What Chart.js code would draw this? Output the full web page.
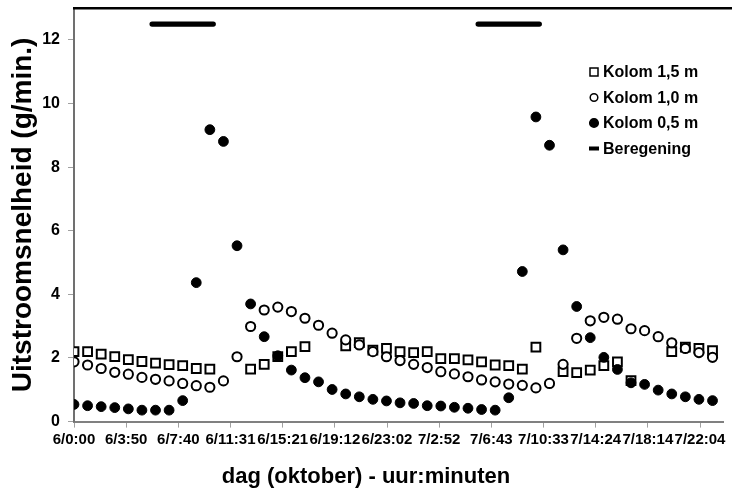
<!DOCTYPE html>
<html>
<head>
<meta charset="utf-8">
<script src="https://cdn.jsdelivr.net/npm/chart.js@4.4.1/dist/chart.umd.min.js"></script>
<style>
  html, body { margin: 0; padding: 0; background: #fff; overflow: hidden; }
  #chart { display: block; }
</style>
</head>
<body>
<canvas id="chart" width="732" height="490"></canvas>
<script>
// 📋 data (hours since 6 oktober 0:00, one reading per hour)
const hours = [0, 1, 2, 3, 4, 5, 6, 7, 8, 9, 10, 11, 12, 13, 14, 15, 16, 17, 18, 19, 20, 21, 22, 23,
  24, 25, 26, 27, 28, 29, 30, 31, 32, 33, 34, 35, 36, 37, 38, 39, 40, 41, 42, 43, 44, 45, 46, 47];

const kolom15 = [2.20, 2.20, 2.12, 2.04, 1.95, 1.89, 1.84, 1.79, 1.76, 1.67, 1.65, null,
  null, 1.65, 1.80, 2.04, 2.20, 2.36, null, null, 2.38, 2.48, 2.25, 2.30,
  2.20, 2.17, 2.20, 1.98, 1.98, 1.94, 1.88, 1.78, 1.76, 1.65, 2.34, null,
  1.57, 1.54, 1.62, 1.76, 1.88, 1.29, null, null, 2.20, 2.34, 2.30, 2.23];

const kolom10 = [1.88, 1.78, 1.67, 1.55, 1.49, 1.39, 1.33, 1.28, 1.20, 1.13, 1.08, 1.28,
  2.04, 2.99, 3.51, 3.60, 3.46, 3.25, 3.03, 2.78, 2.57, 2.41, 2.20, 2.04,
  1.92, 1.80, 1.70, 1.57, 1.50, 1.41, 1.31, 1.25, 1.18, 1.14, 1.06, 1.20,
  1.80, 2.62, 3.17, 3.28, 3.22, 2.92, 2.86, 2.67, 2.48, 2.30, 2.17, 2.02];

const kolom05 = [0.54, 0.50, 0.47, 0.44, 0.40, 0.36, 0.36, 0.36, 0.66, 4.37, 9.18, 8.81,
  5.53, 3.70, 2.67, 2.07, 1.62, 1.38, 1.25, 1.01, 0.87, 0.78, 0.70, 0.65,
  0.59, 0.57, 0.50, 0.49, 0.45, 0.42, 0.38, 0.36, 0.75, 4.72, 9.58, 8.69,
  5.40, 3.62, 2.64, 2.02, 1.64, 1.22, 1.17, 0.99, 0.87, 0.78, 0.70, 0.66];

// 🌧 irrigation periods
const beregeningStart = [5.75, 29.75];
const beregeningEnd = [10.25, 34.25];
const beregeningLevel = 12.5;

// 🏷 axis ticks
const xTickHours = [0, 3.84, 7.68, 11.52, 15.36, 19.2, 23.04, 26.88, 30.72, 34.56, 38.4, 42.24, 46.08];
const xTickLabels = ["6/0:00", "6/3:50", "6/7:40", "6/11:31", "6/15:21", "6/19:12", "6/23:02",
  "7/2:52", "7/6:43", "7/10:33", "7/14:24", "7/18:14", "7/22:04"];
const yTicks = [0, 2, 4, 6, 8, 10, 12];

const FONT = "'Liberation Sans', Arial, sans-serif";

function toPoints(values) {
  return hours.map((h, i) => ({ x: h, y: values[i] })).filter(p => p.y !== null);
}

const beregening = [];
beregeningStart.forEach((s, i) => {
  beregening.push({ x: s, y: beregeningLevel });
  beregening.push({ x: beregeningEnd[i], y: beregeningLevel });
  beregening.push({ x: beregeningEnd[i], y: null }); // break the line
});

// ▬ thick black frame line on top of the plot
const topBorder = {
  id: "topBorder",
  afterDraw(chart) {
    const { ctx, chartArea } = chart;
    ctx.save();
    ctx.strokeStyle = "#000";
    ctx.lineWidth = 2.5;
    ctx.beginPath();
    ctx.moveTo(chartArea.left - 1, chartArea.top);
    ctx.lineTo(chart.width, chartArea.top);
    ctx.stroke();
    ctx.restore();
  }
};

// 📜 legend in the upper right corner
const sideLegend = {
  id: "sideLegend",
  afterDraw(chart) {
    const ctx = chart.ctx;
    const mx = 594, tx = 603, y0 = 72, step = 25.5;
    ctx.save();
    ctx.font = "bold 16px " + FONT;
    ctx.textBaseline = "middle";
    chart.data.datasets.forEach((ds, i) => {
      const y = y0 + i * step;
      ctx.strokeStyle = "#000";
      ctx.fillStyle = "#000";
      ctx.lineWidth = 1.5;
      if (ds.pointStyle === "rect") {
        ctx.fillStyle = "#fff";
        ctx.fillRect(mx - 4, y - 4, 8, 8);
        ctx.strokeRect(mx - 4, y - 4, 8, 8);
      } else if (ds.showLine) {
        ctx.fillRect(mx - 5, y - 2, 10, 4);
      } else {
        ctx.beginPath();
        ctx.arc(mx, y, ds.backgroundColor === "#000" ? 4.3 : 3.8, 0, Math.PI * 2);
        ctx.fillStyle = ds.backgroundColor;
        ctx.fill();
        ctx.stroke();
      }
      ctx.fillStyle = "#000";
      ctx.fillText(ds.label, tx, y + 1);
    });
    ctx.restore();
  }
};

new Chart(document.getElementById("chart"), {
  type: "scatter",
  data: {
    datasets: [
      { label: "Kolom 1,5 m", data: toPoints(kolom15), pointStyle: "rect", pointRadius: 6.2,
        borderWidth: 2, borderColor: "#000", backgroundColor: "#fff", order: 3 },
      { label: "Kolom 1,0 m", data: toPoints(kolom10), pointStyle: "circle", pointRadius: 4.6,
        borderWidth: 2, borderColor: "#000", backgroundColor: "#fff", order: 2 },
      { label: "Kolom 0,5 m", data: toPoints(kolom05), pointStyle: "circle", pointRadius: 4.9,
        borderWidth: 1, borderColor: "#000", backgroundColor: "#000", order: 1 },
      { label: "Beregening", data: beregening, showLine: true, spanGaps: false, pointRadius: 0,
        borderWidth: 5.3, borderColor: "#000", borderCapStyle: "round", order: 0 }
    ]
  },
  options: {
    responsive: false,
    animation: false,
    devicePixelRatio: 1,
    layout: { padding: { top: 8, right: 0, bottom: 0, left: 0 } },
    plugins: {
      legend: { display: false },
      tooltip: { enabled: false },
      title: {
        display: true,
        position: "bottom",
        text: "dag (oktober) - uur:minuten",
        color: "#000",
        font: { family: FONT, size: 22, weight: "bold" },
        padding: { top: 0, bottom: 0 }
      }
    },
    scales: {
      x: {
        type: "linear",
        min: 0,
        max: 47.83,
        afterBuildTicks: s => { s.ticks = xTickHours.map(v => ({ value: v })); },
        afterFit: s => { s.height = 42; s.paddingLeft = 0; s.paddingRight = 0; },
        ticks: {
          callback: (v, i) => xTickLabels[i],
          autoSkip: false,
          maxRotation: 0,
          padding: 3,
          color: "#000",
          font: { family: FONT, size: 15, weight: "bold" }
        },
        grid: { drawOnChartArea: false, tickLength: 6, color: "#a0a0a0", lineWidth: 1 },
        border: { display: true, color: "#808080", width: 2 }
      },
      y: {
        min: 0,
        max: 13,
        afterBuildTicks: s => { s.ticks = yTicks.map(v => ({ value: v })); },
        afterFit: s => { s.width = 74; s.paddingTop = 0; s.paddingBottom = 0; },
        ticks: {
          padding: 8,
          color: "#000",
          font: { family: FONT, size: 16, weight: "bold" }
        },
        grid: { drawOnChartArea: false, tickLength: 6, color: "#a0a0a0", lineWidth: 1 },
        border: { display: true, color: "#707070", width: 2 },
        title: {
          display: true,
          text: "Uitstroomsnelheid (g/min.)",
          color: "#000",
          font: { family: FONT, size: 28, weight: "bold" },
          padding: { top: 6, bottom: 0 }
        }
      }
    }
  },
  plugins: [topBorder, sideLegend]
});
</script>
</body>
</html>
